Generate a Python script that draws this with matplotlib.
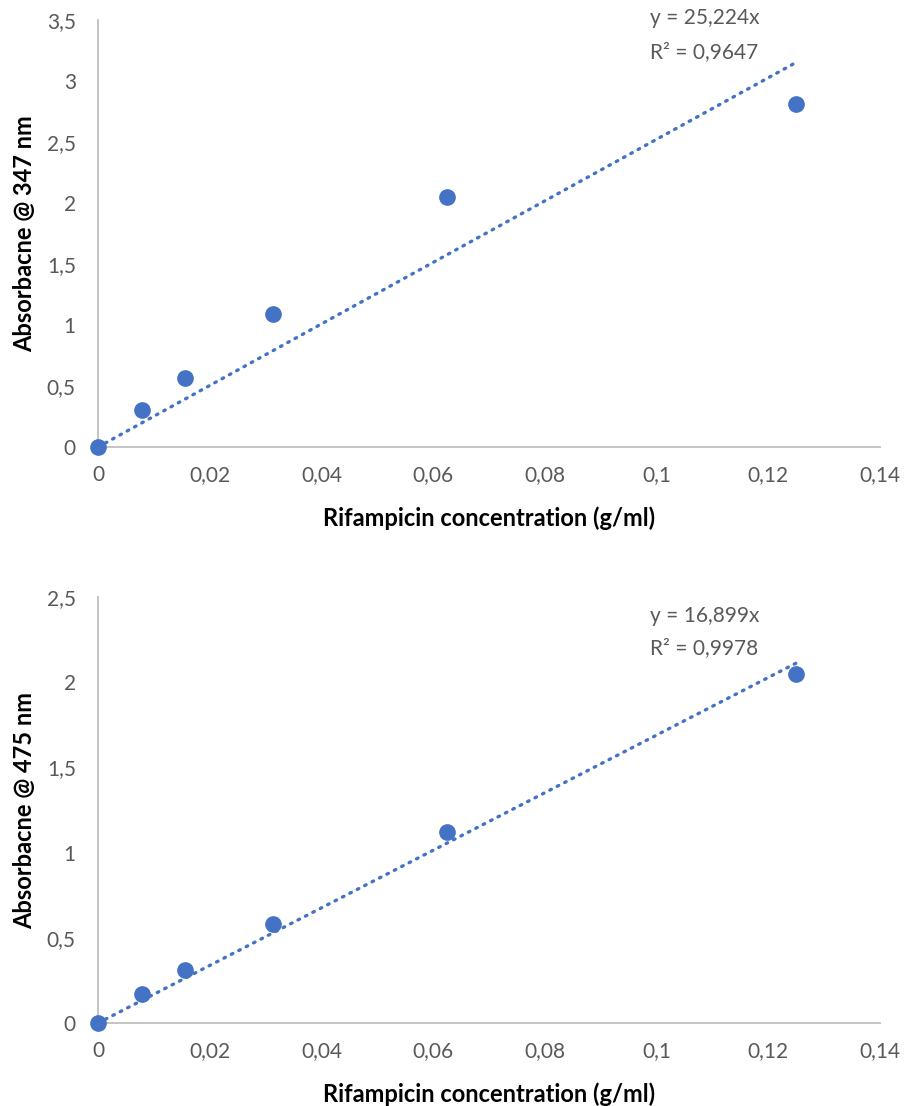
import matplotlib.pyplot as plt
from matplotlib.ticker import FuncFormatter, MultipleLocator
import numpy as np

plt.rcParams['font.family'] = ['Lato', 'DejaVu Sans']

conc = [0, 0.0078125, 0.015625, 0.03125, 0.0625, 0.125]
abs_347 = [0, 0.30, 0.57, 1.09, 2.05, 2.81]
abs_475 = [0, 0.17, 0.31, 0.58, 1.12, 2.05]
slope_347 = 25.224
slope_475 = 16.899
r2_347 = "0,9647"
r2_475 = "0,9978"

blue = '#4472C4'
grey = '#595959'
axis_grey = '#BFBFBF'

def comma(v, pos):
    return ('%g' % v).replace('.', ',')

fig = plt.figure(figsize=(9.05, 11.06), dpi=100)
ax1 = fig.add_axes([0.1083, 0.5958, 0.8641, 0.3861])
ax2 = fig.add_axes([0.1083, 0.0750, 0.8641, 0.3852])

panels = [
    (ax1, abs_347, slope_347, r2_347, 3.5, 'Absorbacne @ 347 nm', (3.52, 3.24)),
    (ax2, abs_475, slope_475, r2_475, 2.5, 'Absorbacne @ 475 nm', (2.39, 2.2)),
]

for ax, ys, slope, r2, ymax, ylabel, txt_y in panels:
    xs = np.array([0, conc[-1]])
    ax.plot(xs, slope * xs, linestyle=(0, (0.5, 2.0)), color=blue, linewidth=2.4,
            dash_capstyle='round', zorder=2)
    ax.plot(conc, ys, 'o', color=blue, markersize=11, zorder=3, clip_on=False)
    ax.set_xlim(0, 0.14)
    ax.set_ylim(0, ymax)
    ax.xaxis.set_major_locator(MultipleLocator(0.02))
    ax.yaxis.set_major_locator(MultipleLocator(0.5))
    ax.xaxis.set_major_formatter(FuncFormatter(comma))
    ax.yaxis.set_major_formatter(FuncFormatter(comma))
    for s in ['top', 'right']:
        ax.spines[s].set_visible(False)
    for s in ['left', 'bottom']:
        ax.spines[s].set_color(axis_grey)
        ax.spines[s].set_linewidth(1.3)
    ax.tick_params(length=0, labelsize=15, colors=grey)
    ax.tick_params(axis='y', pad=16)
    ax.tick_params(axis='x', pad=13)
    ax.set_xlabel('Rifampicin concentration (g/ml)', fontsize=17, fontweight='bold', labelpad=15)
    ax.set_ylabel(ylabel, fontsize=17, fontweight='bold', labelpad=8)
    ax.text(0.0988, txt_y[0], 'y = %s' % ('%.3fx' % slope).replace('.', ','),
            fontsize=15, color=grey, va='center')
    ax.text(0.0988, txt_y[1], 'R² = %s' % r2, fontsize=15, color=grey, va='center')

fig.savefig('out.png', dpi=100)
